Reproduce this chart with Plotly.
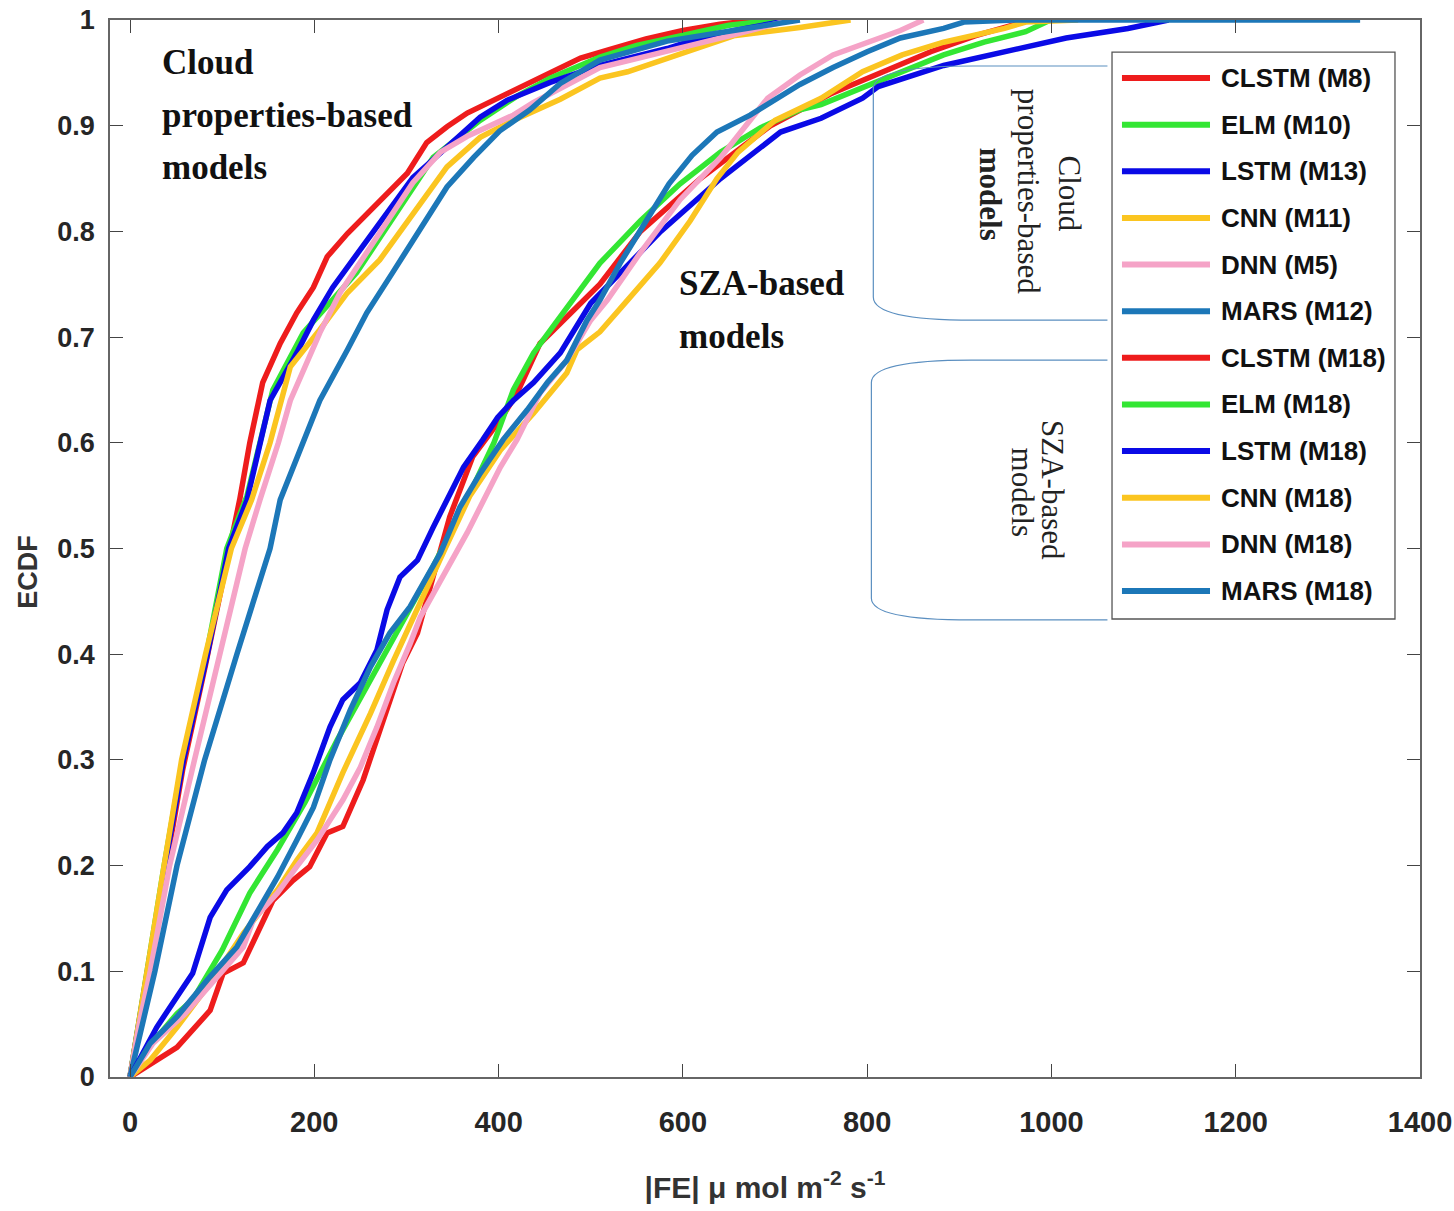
import plotly.graph_objects as go

# ---- axis ticks ----
x_ticks = [0, 200, 400, 600, 800, 1000, 1200, 1400]
y_ticks = [0, 0.1, 0.2, 0.3, 0.4, 0.5, 0.6, 0.7, 0.8, 0.9, 1.0]
y_tick_text = ["0", "0.1", "0.2", "0.3", "0.4", "0.5", "0.6", "0.7", "0.8", "0.9", "1"]

# ---- cloud properties-based models (|FE|, ECDF) ----
clstm_m8_x = [0, 8, 18, 38, 57, 82, 104, 111, 119, 130, 144, 163, 181, 199, 214, 236, 257, 279, 301, 322, 344, 366, 380, 420, 460, 489, 520, 560, 600, 640, 680]
clstm_m8_y = [0, 0.04, 0.09, 0.19, 0.29, 0.39, 0.48, 0.51, 0.546, 0.60, 0.657, 0.694, 0.723, 0.747, 0.776, 0.798, 0.817, 0.836, 0.855, 0.884, 0.899, 0.912, 0.918, 0.935, 0.952, 0.964, 0.972, 0.982, 0.99, 0.996, 1.0]

elm_m10_x = [0, 9, 19, 37, 57, 83, 105, 127, 155, 188, 246, 279, 329, 380, 420, 456, 510, 550, 600, 650, 700]
elm_m10_y = [0, 0.05, 0.1, 0.2, 0.3, 0.4, 0.5, 0.55, 0.65, 0.704, 0.761, 0.804, 0.870, 0.905, 0.928, 0.945, 0.965, 0.976, 0.986, 0.995, 1.0]

lstm_m13_x = [0, 10, 19, 38, 58, 84, 107, 127, 152, 181, 199, 220, 242, 307, 329, 355, 380, 409, 456, 510, 583, 619, 655, 717]
lstm_m13_y = [0, 0.05, 0.1, 0.2, 0.3, 0.4, 0.5, 0.546, 0.64, 0.685, 0.716, 0.747, 0.773, 0.851, 0.868, 0.889, 0.908, 0.924, 0.941, 0.957, 0.973, 0.983, 0.99, 1.0]

cnn_m11_x = [0, 9, 18, 37, 56, 82, 110, 132, 152, 174, 206, 236, 271, 307, 344, 380, 416, 467, 510, 540, 597, 655, 727, 782]
cnn_m11_y = [0, 0.05, 0.1, 0.2, 0.3, 0.4, 0.5, 0.546, 0.6, 0.672, 0.707, 0.742, 0.773, 0.817, 0.861, 0.889, 0.905, 0.925, 0.945, 0.951, 0.968, 0.985, 0.993, 1.0]

dnn_m5_x = [0, 10, 22, 43, 70, 98, 125, 141, 161, 174, 206, 228, 257, 286, 307, 337, 366, 416, 438, 510, 583, 655, 717]
dnn_m5_y = [0, 0.05, 0.1, 0.2, 0.3, 0.4, 0.5, 0.546, 0.6, 0.64, 0.704, 0.742, 0.78, 0.817, 0.846, 0.875, 0.89, 0.91, 0.922, 0.955, 0.970, 0.986, 1.0]

mars_m12_x = [0, 14, 27, 51, 81, 116, 152, 163, 184, 206, 236, 257, 285, 315, 344, 373, 401, 434, 467, 510, 583, 655, 727]
mars_m12_y = [0, 0.05, 0.1, 0.2, 0.3, 0.4, 0.5, 0.546, 0.593, 0.64, 0.688, 0.723, 0.761, 0.801, 0.842, 0.870, 0.895, 0.915, 0.94, 0.962, 0.98, 0.99, 1.0]

# ---- SZA-based models (|FE|, ECDF) ----
clstm_m18_x = [0, 51, 87, 101, 123, 138, 155, 177, 195, 214, 231, 253, 268, 282, 296, 312, 347, 372, 402, 420, 445, 510, 554, 619, 695, 760, 814, 869, 917, 955, 977]
clstm_m18_y = [0, 0.028, 0.063, 0.098, 0.108, 0.136, 0.167, 0.186, 0.199, 0.231, 0.237, 0.281, 0.319, 0.357, 0.392, 0.42, 0.53, 0.587, 0.622, 0.647, 0.694, 0.75, 0.8, 0.85, 0.9, 0.93, 0.95, 0.97, 0.985, 0.995, 1.0]

elm_m18_x = [0, 22, 51, 68, 100, 130, 160, 190, 225, 260, 295, 329, 365, 395, 416, 438, 459, 481, 510, 554, 597, 641, 684, 727, 750, 795, 838, 883, 927, 972, 999]
elm_m18_y = [0, 0.03, 0.06, 0.073, 0.12, 0.174, 0.215, 0.26, 0.319, 0.375, 0.43, 0.483, 0.545, 0.6, 0.65, 0.685, 0.71, 0.735, 0.77, 0.81, 0.845, 0.875, 0.898, 0.915, 0.92, 0.936, 0.951, 0.967, 0.979, 0.989, 1.0]

lstm_m18_x = [0, 29, 51, 68, 87, 105, 130, 149, 166, 181, 199, 217, 231, 250, 268, 279, 293, 312, 329, 340, 362, 383, 399, 416, 438, 467, 500, 576, 641, 706, 750, 795, 812, 883, 949, 1016, 1083, 1127]
lstm_m18_y = [0, 0.047, 0.076, 0.098, 0.151, 0.177, 0.199, 0.218, 0.231, 0.25, 0.288, 0.331, 0.357, 0.373, 0.404, 0.442, 0.473, 0.489, 0.52, 0.539, 0.577, 0.603, 0.624, 0.64, 0.657, 0.685, 0.732, 0.8, 0.85, 0.894, 0.907, 0.926, 0.937, 0.957, 0.970, 0.983, 0.992, 1.0]

cnn_m18_x = [0, 22, 51, 87, 123, 160, 181, 203, 231, 261, 286, 315, 342, 369, 402, 438, 474, 485, 510, 540, 575, 608, 637, 660, 700, 750, 795, 838, 883, 949, 972, 1029]
cnn_m18_y = [0, 0.016, 0.047, 0.089, 0.136, 0.177, 0.205, 0.231, 0.288, 0.344, 0.394, 0.45, 0.5, 0.55, 0.593, 0.628, 0.666, 0.688, 0.705, 0.735, 0.77, 0.81, 0.85, 0.875, 0.905, 0.926, 0.951, 0.967, 0.979, 0.992, 0.998, 1.0]

dnn_m18_x = [0, 25, 60, 95, 123, 134, 160, 181, 203, 231, 250, 268, 286, 304, 315, 366, 402, 420, 445, 474, 500, 518, 554, 597, 641, 692, 727, 763, 800, 836, 861]
dnn_m18_y = [0, 0.032, 0.06, 0.095, 0.123, 0.149, 0.174, 0.199, 0.224, 0.262, 0.293, 0.331, 0.373, 0.41, 0.435, 0.515, 0.577, 0.603, 0.647, 0.678, 0.716, 0.735, 0.78, 0.83, 0.87, 0.926, 0.948, 0.967, 0.979, 0.99, 1.0]

mars_m18_x = [0, 22, 51, 87, 116, 138, 160, 181, 199, 217, 239, 261, 282, 304, 337, 358, 380, 405, 431, 453, 474, 496, 510, 532, 560, 585, 610, 637, 673, 727, 763, 800, 836, 883, 905, 960, 1335]
mars_m18_y = [0, 0.032, 0.057, 0.095, 0.123, 0.155, 0.189, 0.224, 0.255, 0.30, 0.347, 0.388, 0.42, 0.445, 0.496, 0.539, 0.571, 0.603, 0.631, 0.657, 0.678, 0.716, 0.735, 0.77, 0.81, 0.845, 0.872, 0.894, 0.910, 0.939, 0.955, 0.97, 0.983, 0.992, 0.998, 1.0, 1.0]

series_names = ["CLSTM (M8)", "ELM (M10)", "LSTM (M13)", "CNN (M11)", "DNN (M5)", "MARS (M12)",
                "CLSTM (M18)", "ELM (M18)", "LSTM (M18)", "CNN (M18)", "DNN (M18)", "MARS (M18)"]
series_x = [clstm_m8_x, elm_m10_x, lstm_m13_x, cnn_m11_x, dnn_m5_x, mars_m12_x,
            clstm_m18_x, elm_m18_x, lstm_m18_x, cnn_m18_x, dnn_m18_x, mars_m18_x]
series_y = [clstm_m8_y, elm_m10_y, lstm_m13_y, cnn_m11_y, dnn_m5_y, mars_m12_y,
            clstm_m18_y, elm_m18_y, lstm_m18_y, cnn_m18_y, dnn_m18_y, mars_m18_y]

model_colors = ["#ee1c1c", "#33e633", "#0a0ae6", "#fbc520", "#f5a3c7", "#1c77b8"]
series_colors = model_colors * 2

fig = go.Figure()
for name, xs, ys, col in zip(series_names, series_x, series_y, series_colors):
    fig.add_trace(go.Scatter(x=xs, y=ys, mode="lines", name=name,
                             line=dict(color=col, width=5.5),
                             showlegend=False))

# ---- in-plot labels ----
serif_bold = dict(family="Liberation Serif, Times New Roman, serif", size=35, color="#111111", weight="bold")
serif = dict(family="Liberation Serif, Times New Roman, serif", size=31, color="#222222")
annotations = []
for txt, yv in [("Cloud", 0.960), ("properties-based", 0.910), ("models", 0.860)]:
    annotations.append(dict(x=32.6, y=yv, xref="x", yref="y", text=txt, showarrow=False,
                            xanchor="left", yanchor="middle", font=serif_bold))
for txt, yv in [("SZA-based", 0.751), ("models", 0.701)]:
    annotations.append(dict(x=594, y=yv, xref="x", yref="y", text=txt, showarrow=False,
                            xanchor="left", yanchor="middle", font=serif_bold))

# rotated group captions beside the brackets
for txt, xv, yv, bold in [("Cloud", 1020, 0.836, False), ("properties-based", 975, 0.838, False),
                          ("models", 934, 0.835, True), ("SZA-based", 1001, 0.555, False),
                          ("models", 969, 0.553, False)]:
    f = dict(serif)
    if bold:
        f["weight"] = "bold"
    annotations.append(dict(x=xv, y=yv, xref="x", yref="y", text=txt, showarrow=False,
                            textangle=90, xanchor="center", yanchor="middle", font=f))

# ---- legend drawn as a framed block ----
leg_x0, leg_x1, leg_y0, leg_y1 = 0.7649, 0.9809, 0.4333, 0.9697
row_top, row_step = 0.9451, 0.04412
shapes = [dict(type="rect", xref="paper", yref="paper", x0=leg_x0, x1=leg_x1, y0=leg_y0, y1=leg_y1,
               line=dict(color="#555555", width=1.3), fillcolor="white", layer="above")]
for i, (name, col) in enumerate(zip(series_names, series_colors)):
    yr = row_top - i * row_step
    shapes.append(dict(type="line", xref="paper", yref="paper", x0=0.7725, x1=0.8397, y0=yr, y1=yr,
                       line=dict(color=col, width=6), layer="above"))
    annotations.append(dict(x=0.8465, y=yr, xref="paper", yref="paper", text=name, showarrow=False,
                            xanchor="left", yanchor="middle",
                            font=dict(family="Liberation Sans, Arial, sans-serif", size=26,
                                      color="#111111", weight="bold")))

# brackets grouping the legend entries
bracket_col = "#5b8fc0"
shapes.append(dict(type="path", xref="x", yref="y",
                   path="M 1060.8 0.9565 L 915 0.9565 Q 806.7 0.9565 806.7 0.935 L 806.7 0.738 "
                        "Q 806.7 0.716 915 0.716 L 1060.8 0.716",
                   line=dict(color=bracket_col, width=1.2), layer="above"))
shapes.append(dict(type="path", xref="x", yref="y",
                   path="M 1060.8 0.6783 L 913 0.6783 Q 804.6 0.6783 804.6 0.657 L 804.6 0.453 "
                        "Q 804.6 0.4324 913 0.4324 L 1060.8 0.4324",
                   line=dict(color=bracket_col, width=1.2), layer="above"))

# y-axis caption
annotations.append(dict(x=-0.0626, y=0.478, xref="paper", yref="paper", text="ECDF", showarrow=False,
                        textangle=-90, xanchor="center", yanchor="middle",
                        font=dict(family="Liberation Sans, Arial, sans-serif", size=27,
                                  color="#333333", weight="bold")))

tick_font = dict(family="Liberation Sans, Arial, sans-serif", size=29, color="#262626", weight="bold")
axis_common = dict(showline=True, linecolor="#666666", linewidth=1.5, mirror="ticks",
                   ticks="inside", ticklen=13, tickwidth=1.3, tickcolor="#444444",
                   showgrid=False, zeroline=False, automargin=False)

fig.update_layout(
    width=1454, height=1211,
    margin=dict(l=110, r=34, t=20, b=134, autoexpand=False),
    paper_bgcolor="white", plot_bgcolor="white",
    xaxis=dict(range=[-21.7, 1400], tickvals=x_ticks, ticktext=[str(v) for v in x_ticks],
               tickfont=tick_font, ticklabelstandoff=18,
               title=dict(text="|FE| \u03bc mol m<sup>-2</sup> s<sup>-1</sup>",
                          font=dict(family="Liberation Sans, Arial, sans-serif", size=30,
                                    color="#333333", weight="bold"), standoff=40),
               **axis_common),
    yaxis=dict(range=[0, 1], tickvals=y_ticks, ticktext=y_tick_text,
               tickfont=dict(tick_font, size=27), ticklabelstandoff=8,
               **axis_common),
    annotations=annotations,
    shapes=shapes,
)

fig.write_html("out.html")
